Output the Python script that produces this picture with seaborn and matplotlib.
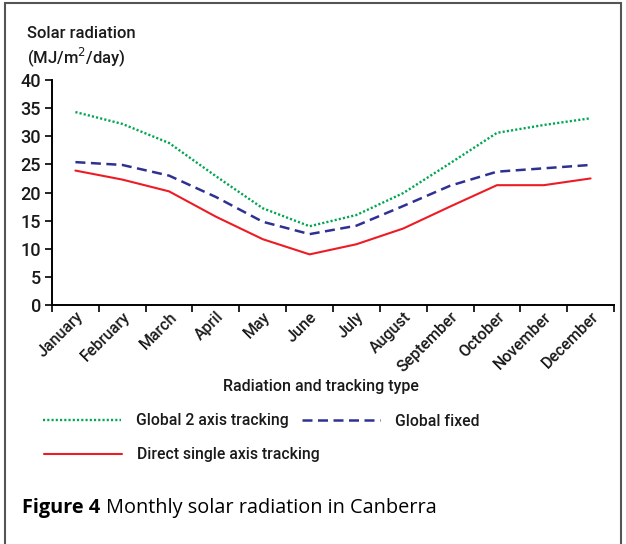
import numpy as np
import pandas as pd
import matplotlib
matplotlib.use("Agg")
import matplotlib.pyplot as plt
import matplotlib.transforms as mtransforms
import seaborn as sns
from matplotlib.patches import Rectangle

months = ["January", "February", "March", "April", "May", "June", "July",
          "August", "September", "October", "November", "December"]
global_2axis = [34.3, 32.2, 28.8, 22.9, 17.2, 14.0, 16.0, 19.9, 25.2, 30.6, 32.0, 33.2]
global_fixed = [25.4, 24.9, 23.0, 19.2, 14.8, 12.6, 14.1, 17.6, 21.2, 23.7, 24.3, 24.9]
direct_single = [23.9, 22.3, 20.2, 15.7, 11.7, 9.0, 10.8, 13.6, 17.5, 21.3, 21.3, 22.5]
series_names = ["Global 2 axis tracking", "Global fixed", "Direct single axis tracking"]
yticks = [0, 5, 10, 15, 20, 25, 30, 35, 40]

sns.set_theme(style="white")
plt.rcParams['font.family'] = ['Roboto', 'DejaVu Sans']
plt.rcParams['text.color'] = '#1a1a1a'
TXT = "#1a1a1a"
W = 500

df = pd.DataFrame({
    "idx": list(range(12)) * 3,
    "value": global_2axis + global_fixed + direct_single,
    "series": [series_names[0]] * 12 + [series_names[1]] * 12 + [series_names[2]] * 12,
})

fig = plt.figure(figsize=(6.26, 5.44), dpi=100)
ax = fig.add_axes([52 / 626, 1 - 305 / 544, (614 - 52) / 626, (305 - 80) / 544])

palette = {series_names[0]: "#00a651", series_names[1]: "#2e3192", series_names[2]: "#ed1c24"}
sns.lineplot(data=df, x="idx", y="value", hue="series", palette=palette, ax=ax,
             legend=False)
styles = [(0, (0.9, 0.9)), (0, (4, 2.2)), "-"]
widths = [1.7, 1.8, 1.5]
for line, ls, lw in zip(ax.get_lines(), styles, widths):
    line.set_linestyle(ls)
    line.set_linewidth(lw)

ax.set_xlim(-0.5, 11.5)
ax.set_ylim(0, 40)
ax.set_yticks(yticks)
ax.set_yticklabels([str(v) for v in yticks], fontsize=13, fontweight=W, color=TXT)
ax.set_xticks(range(12))
ax.set_xticklabels(months, rotation=45, ha="right", rotation_mode="anchor",
                   fontsize=11.5, fontweight=W, color=TXT)
off = mtransforms.ScaledTranslation(6 / 100, 0, fig.dpi_scale_trans)
for lab in ax.get_xticklabels():
    lab.set_transform(lab.get_transform() + off)
ax.set_xticks(np.arange(-0.5, 12, 1), minor=True)
ax.tick_params(axis="x", which="major", length=0, pad=3)
ax.tick_params(axis="x", which="minor", length=5, width=1.2, color="black", direction="out", bottom=True)
ax.tick_params(axis="y", length=5, width=1.2, color="black", direction="out", left=True, pad=3)
for s in ["top", "right"]:
    ax.spines[s].set_visible(False)
for s in ["left", "bottom"]:
    ax.spines[s].set_color("black")
    ax.spines[s].set_linewidth(1.4)
ax.set_xlabel("")
ax.set_ylabel("")

fig.text(27 / 626, 1 - 33 / 544, "Solar radiation", fontsize=12, fontweight=W, va="center")
fig.text(27 / 626, 1 - 57 / 544, "(MJ/m$^{2}$/day)", fontsize=12, fontweight=W, va="center")
fig.text(321 / 626, 1 - 387 / 544, "Radiation and tracking type", fontsize=11.5,
         fontweight=W, ha="center", va="center")

# legend: one entry per legend so each sits where the reference puts it
handles = ax.get_lines()
lp = {"weight": W, "size": 11.3}
spots = [(0, 37, 421), (2, 38, 455), (1, 296, 421)]
legs = []
for i, x, y in spots:
    lg = fig.legend([handles[i]], [series_names[i]], loc="center left",
                    bbox_to_anchor=(x / 626, 1 - y / 544), frameon=False,
                    handlelength=4.95, handletextpad=0.95, prop=lp, borderaxespad=0)
    legs.append(lg)

fig.text(22 / 626, 1 - 508 / 544, "Figure 4", fontsize=14.3, fontweight="bold",
         family=["Open Sans", "DejaVu Sans"], va="center", color="black")
fig.text(106 / 626, 1 - 508 / 544, "Monthly solar radiation in Canberra", fontsize=14.3,
         family=["Open Sans", "DejaVu Sans"], va="center", color="black")

fig.patches.append(Rectangle((5 / 626, -0.01), 616 / 626, 1 - 3 / 544 + 0.01,
                             transform=fig.transFigure, fill=False,
                             edgecolor="#555555", linewidth=1.5))

fig.savefig("out.png", dpi=100)
